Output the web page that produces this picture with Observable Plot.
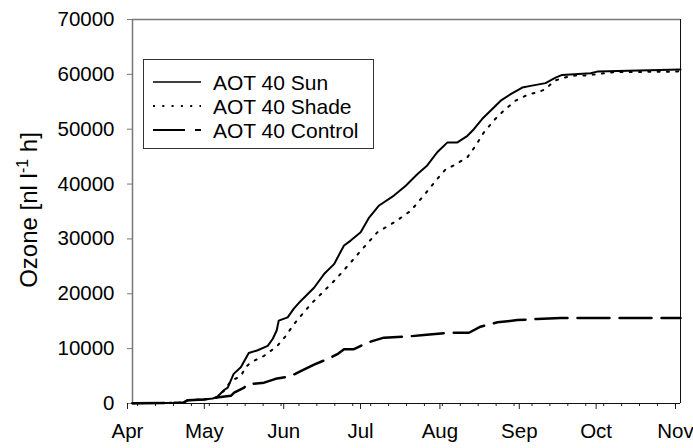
<!DOCTYPE html>
<html><head><meta charset="utf-8">
<script src="https://cdn.jsdelivr.net/npm/d3@7"></script>
<script src="https://cdn.jsdelivr.net/npm/@observablehq/plot@0.6"></script>
<style>body{margin:0;background:#fff;}</style>
</head><body><div id="chart"></div>
<script>
// ---- data (days since 1 April, cumulative AOT40 values) ----
const seriesNames = ["AOT 40 Sun", "AOT 40 Shade", "AOT 40 Control"];
const monthLabels = ["Apr", "May", "Jun", "Jul", "Aug", "Sep", "Oct", "Nov"];
const yTicks = [0, 10000, 20000, 30000, 40000, 50000, 60000, 70000];
const yTickLabels = ["0", "10000", "20000", "30000", "40000", "50000", "60000", "70000"];

const sunDay = [0, 19.9, 21.6, 27.8, 31.3, 32.9, 35.9, 37.2, 39.5, 42.3, 45.4, 48.9, 52.8, 54.8, 56.3, 57.1, 60.6, 63, 65.7, 70.9, 74.8, 78.7, 82.6, 85.2, 89.1, 92.4, 96.3, 102.1, 106.7, 111.2, 115.1, 119, 123, 126.9, 130.8, 133.3, 136.6, 140.5, 143.8, 147.7, 152.2, 155.5, 161.3, 165.2, 167.8, 178.9, 181.5, 214];
const sunVal = [50, 150, 600, 750, 900, 1150, 2500, 2900, 5400, 6600, 9200, 9700, 10500, 11800, 13300, 15100, 15700, 17300, 18700, 21100, 23600, 25400, 28800, 29700, 31200, 33900, 36100, 37900, 39700, 41800, 43400, 45800, 47600, 47600, 48800, 50000, 51900, 53700, 55200, 56400, 57600, 57900, 58400, 59400, 59900, 60200, 60500, 60900];

const shadeDay = [0, 19.9, 21.6, 27.8, 31.3, 32.9, 35.9, 38.4, 42.3, 44.2, 46.2, 48.8, 51.4, 54, 56.6, 59.8, 63.1, 69.6, 73.5, 79.7, 84.8, 90.4, 95.6, 102.1, 108.6, 113.2, 118.4, 122.3, 125.5, 130.8, 134, 137.2, 141.1, 145, 149.6, 154.8, 158.1, 161.3, 164.6, 168.5, 173, 176.9, 188, 212.7, 214];
const shadeVal = [50, 150, 600, 750, 900, 1150, 2400, 4100, 5000, 6600, 7500, 8100, 8700, 9600, 10500, 12300, 14500, 18100, 19900, 22800, 25500, 28500, 31200, 33000, 35100, 37600, 40600, 42700, 43400, 44900, 47000, 49400, 51600, 53400, 55200, 56400, 56700, 57300, 58800, 59400, 59800, 59800, 60400, 60500, 60700];

const ctrlDay = [0, 19.9, 21.6, 27.8, 31.3, 32.9, 38.4, 39.7, 43.6, 44.9, 51.4, 55.9, 61.8, 65.7, 70.9, 76.1, 80, 82.6, 86.5, 91.7, 98.2, 107.3, 113.8, 124.2, 131.4, 135.9, 142.5, 150.3, 158.1, 167.2, 214];
const ctrlVal = [50, 150, 600, 750, 900, 1100, 1400, 2000, 2900, 3500, 3800, 4500, 5000, 5900, 7100, 8100, 9000, 9900, 9900, 11100, 12000, 12200, 12500, 12900, 12900, 14000, 14800, 15200, 15400, 15600, 15600];

// ---- build table ----
const start = Date.UTC(2000, 3, 1);
const toDate = d => new Date(start + d * 864e5);
function rowsOf(name, days, vals) { return days.map((d, i) => ({series: name, date: toDate(d), value: vals[i]})); }
const sunRows = rowsOf(seriesNames[0], sunDay, sunVal);
const shadeRows = rowsOf(seriesNames[1], shadeDay, shadeVal);
const ctrlRows = rowsOf(seriesNames[2], ctrlDay, ctrlVal);

const monthTicks = monthLabels.map((m, i) => new Date(Date.UTC(2000, 3 + i, 1)));
const weekTicks = d3.utcMonday.range(monthTicks[0], new Date(Date.UTC(2000, 10, 2)));

const styles = [
  {stroke: "#000", strokeWidth: 2, dash: null, legendWidth: 1.7},
  {stroke: "#000", strokeWidth: 2, dash: "2,7.3", legendWidth: 2},
  {stroke: "#000", strokeWidth: 2.5, dash: "32,10", legendWidth: 2}
];

const FONT = "'Liberation Sans', Arial, Helvetica, sans-serif";

const plot = Plot.plot({
  width: 693, height: 448,
  marginLeft: 132, marginRight: 13, marginTop: 19, marginBottom: 45,
  style: {fontFamily: FONT, fontSize: "20.5px", color: "#000", background: "#fff", overflow: "visible"},
  x: {type: "utc", domain: [monthTicks[0], monthTicks[monthTicks.length - 1]]},
  y: {domain: [0, 70000]},
  marks: [
    Plot.axisY({ticks: yTicks, tickSize: 5, tickPadding: 13, tickFormat: d => yTickLabels[yTicks.indexOf(d)], label: null, stroke: "#777", fill: "#000", fontSize: 20.5}),
    Plot.axisX({ticks: weekTicks, tickSize: 3, tickFormat: () => "", label: null, stroke: "#222"}),
    Plot.axisX({ticks: monthTicks, tickSize: 6, tickPadding: 14, tickFormat: d => monthLabels[d.getUTCMonth() - 3], label: null, stroke: "#222", fill: "#000", dx: -5, fontSize: 20.5}),
    Plot.ruleX([monthTicks[0]], {stroke: "#777", strokeWidth: 1.5}),
    Plot.ruleY([70000], {stroke: "#777", strokeWidth: 1.5}),
    Plot.ruleX([monthTicks[monthTicks.length - 1]], {stroke: "#111", strokeWidth: 1}),
    Plot.ruleY([0], {stroke: "#111", strokeWidth: 1}),
    Plot.line(ctrlRows, {x: "date", y: "value", stroke: styles[2].stroke, strokeWidth: styles[2].strokeWidth, strokeDasharray: styles[2].dash}),
    Plot.line(shadeRows, {x: "date", y: "value", stroke: styles[1].stroke, strokeWidth: styles[1].strokeWidth, strokeDasharray: styles[1].dash}),
    Plot.line(sunRows, {x: "date", y: "value", stroke: styles[0].stroke, strokeWidth: styles[0].strokeWidth})
  ]
});

const svg = d3.select(plot);
// y-axis title with superscript
const t = svg.append("text")
  .attr("transform", "translate(36.5,210) rotate(-90)")
  .attr("text-anchor", "middle")
  .attr("font-family", FONT).attr("font-size", 24).attr("fill", "#000");
t.append("tspan").text("Ozone [nl l");
t.append("tspan").attr("font-size", 16).attr("dy", -9).text("-1");
t.append("tspan").attr("dy", 9).text(" h]");

// legend
const lg = svg.append("g").attr("font-family", FONT).attr("font-size", 21).attr("text-anchor", "start");
lg.append("rect").attr("x", 143.5).attr("y", 59.5).attr("width", 230).attr("height", 89)
  .attr("fill", "#fff").attr("stroke", "#333").attr("stroke-width", 1);
seriesNames.forEach((name, i) => {
  const y = 82 + i * 24;
  const ln = lg.append("line").attr("x1", 153).attr("x2", 201).attr("y1", y).attr("y2", y)
    .attr("stroke", "#000").attr("stroke-width", styles[i].legendWidth);
  if (styles[i].dash) ln.attr("stroke-dasharray", styles[i].dash);
  lg.append("text").attr("x", 213).attr("y", y + 7.5).attr("text-anchor", "start").attr("fill", "#000").text(name);
});

document.getElementById("chart").appendChild(plot);
</script>
</body></html>
